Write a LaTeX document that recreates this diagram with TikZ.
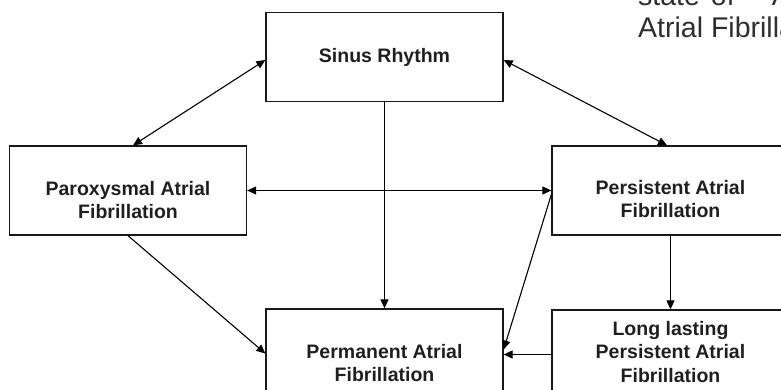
\documentclass[tikz,border=0pt]{standalone}
\usepackage{fontspec}
\setmainfont{Liberation Sans}
\usetikzlibrary{arrows.meta}

\begin{document}
\begin{tikzpicture}[x=1pt,y=-1pt,
  box/.style={draw=black!90,line width=1.3pt,minimum width=237pt,minimum height=89pt,inner sep=0pt},
  boxtext/.style={align=center,inner sep=0pt,font=\fontsize{19.5}{23.5}\selectfont\bfseries,text=black!88},
  link/.style={line width=1.1pt,-{Triangle[length=9pt,width=8pt]}},
  dlink/.style={line width=1.1pt,{Triangle[length=9pt,width=8pt]}-{Triangle[length=9pt,width=8pt]}},
  note/.style={anchor=base west,inner sep=0pt,font=\fontsize{28.5}{32}\selectfont,text=black!82}]
	\useasboundingbox (0,0) rectangle (781,389);
	\clip (0,0) rectangle (781,389);
	\node[note] (note1) at (638,5) {state\hspace{11pt}of\hspace{37pt}A};
	\node[note] (note2) at (638,37) {Atrial Fibrillation};
	\node[box] (sinus) at (384.5,57) {};
	\node[box] (parox) at (128,190.5) {};
	\node[box] (persist) at (670.5,190.5) {};
	\node[box] (perm) at (384.5,353.5) {};
	\node[box] (longlast) at (670.5,354.5) {};
	\node[boxtext] (sinus-t) at (sinus.center) {Sinus Rhythm};
	\node[boxtext] (parox-t) at ([yshift=-9.5pt]parox.center) {Paroxysmal Atrial\\Fibrillation};
	\node[boxtext] (persist-t) at ([yshift=-8.5pt]persist.center) {Persistent Atrial\\Fibrillation};
	\node[boxtext] (perm-t) at ([yshift=-9.5pt]perm.center) {Permanent Atrial\\Fibrillation};
	\node[boxtext] (longlast-t) at ([yshift=2.5pt]longlast.center) {Long lasting\\Persistent Atrial\\Fibrillation};
	\draw[dlink] ([yshift=-3pt]sinus.west) -- ([xshift=5pt]parox.north);
	\draw[dlink] ([yshift=-3pt]sinus.east) -- ([xshift=-3.5pt]persist.north);
	\draw[dlink] (parox.east) -- (persist.west);
	\draw[link] (sinus.south) -- (perm.north);
	\draw[link] (parox.south) -- (perm.west);
	\draw[link] ([yshift=-4pt]persist.west) -- ([yshift=4pt]perm.east);
	\draw[link] (persist.south) -- (longlast.north);
	\draw[link] (longlast.west) -- (longlast.west -| perm.east);
\end{tikzpicture}
\end{document}
